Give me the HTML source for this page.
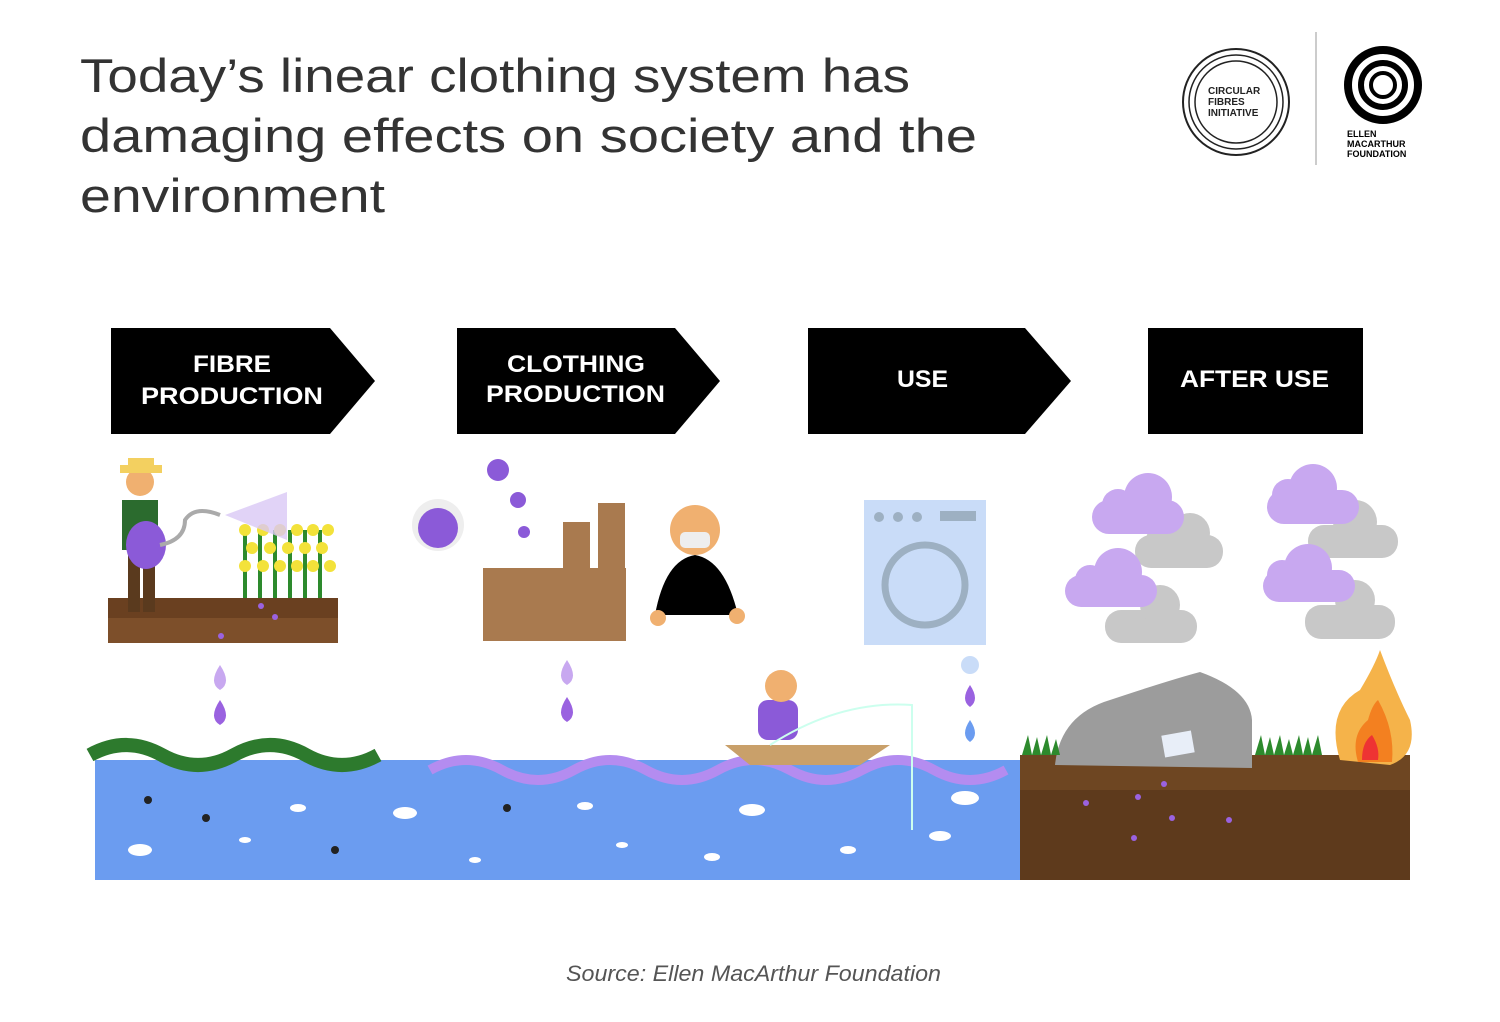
<!DOCTYPE html>
<html><head><meta charset="utf-8"><style>
html,body{margin:0;padding:0;background:#fff;}
svg{display:block}
</style></head><body>
<svg width="1500" height="1022" viewBox="0 0 1500 1022" xmlns="http://www.w3.org/2000/svg" font-family="Liberation Sans, sans-serif">
<rect width="1500" height="1022" fill="#fff"/>
<g fill="#333" font-size="47">
<text x="80" y="92" textLength="830" lengthAdjust="spacingAndGlyphs">Today’s linear clothing system has</text>
<text x="80" y="152" textLength="897" lengthAdjust="spacingAndGlyphs">damaging effects on society and the</text>
<text x="80" y="212" textLength="305" lengthAdjust="spacingAndGlyphs">environment</text>
</g>
<g fill="none" stroke="#222">
<circle cx="1236" cy="102" r="53" stroke-width="2"/>
<circle cx="1236" cy="102" r="47" stroke-width="1.5"/>
<circle cx="1236" cy="102" r="41" stroke-width="1.5"/>
</g>
<g font-size="10" font-weight="bold" fill="#222"><text x="1208" y="94">CIRCULAR</text><text x="1208" y="105">FIBRES</text><text x="1208" y="116">INITIATIVE</text></g>
<line x1="1316" y1="32" x2="1316" y2="165" stroke="#ccc" stroke-width="2"/>
<circle cx="1383" cy="85" r="35" fill="none" stroke="#000" stroke-width="8"/>
<circle cx="1383" cy="85" r="22" fill="none" stroke="#000" stroke-width="6"/>
<circle cx="1383" cy="85" r="12" fill="none" stroke="#000" stroke-width="4"/>
<g font-size="9" font-weight="bold" fill="#000"><text x="1347" y="137">ELLEN</text><text x="1347" y="147">MACARTHUR</text><text x="1347" y="157">FOUNDATION</text></g>
<g fill="#000">
<polygon points="111,328 330,328 375,381 330,434 111,434"/>
<polygon points="457,328 675,328 720,381 675,434 457,434"/>
<polygon points="808,328 1025,328 1071,381 1025,434 808,434"/>
<rect x="1148" y="328" width="215" height="106"/>
</g>
<g fill="#fff" font-size="24" font-weight="bold">
<text x="193" y="372" textLength="78" lengthAdjust="spacingAndGlyphs">FIBRE</text>
<text x="141" y="404" textLength="182" lengthAdjust="spacingAndGlyphs">PRODUCTION</text>
<text x="507" y="372" textLength="138" lengthAdjust="spacingAndGlyphs">CLOTHING</text>
<text x="486" y="402" textLength="179" lengthAdjust="spacingAndGlyphs">PRODUCTION</text>
<text x="897" y="387" textLength="51" lengthAdjust="spacingAndGlyphs">USE</text>
<text x="1180" y="387" textLength="149" lengthAdjust="spacingAndGlyphs">AFTER USE</text>
</g>
<rect x="108" y="598" width="230" height="45" fill="#7d4f2a"/>
<rect x="108" y="598" width="230" height="20" fill="#6a4020"/>
<g fill="#2d8a2d"><rect x="243" y="530" width="4" height="68"/><rect x="258" y="530" width="4" height="68"/><rect x="273" y="530" width="4" height="68"/><rect x="288" y="530" width="4" height="68"/><rect x="303" y="530" width="4" height="68"/><rect x="318" y="530" width="4" height="68"/></g>
<g fill="#f3e23a">
<circle cx="245" cy="530" r="6"/><circle cx="263" cy="530" r="6"/><circle cx="280" cy="530" r="6"/><circle cx="297" cy="530" r="6"/><circle cx="313" cy="530" r="6"/><circle cx="328" cy="530" r="6"/>
<circle cx="252" cy="548" r="6"/><circle cx="270" cy="548" r="6"/><circle cx="288" cy="548" r="6"/><circle cx="305" cy="548" r="6"/><circle cx="322" cy="548" r="6"/>
<circle cx="245" cy="566" r="6"/><circle cx="263" cy="566" r="6"/><circle cx="280" cy="566" r="6"/><circle cx="297" cy="566" r="6"/><circle cx="313" cy="566" r="6"/><circle cx="330" cy="566" r="6"/>
</g>
<polygon points="225,515 287,492 287,540" fill="#d9c8f5" opacity="0.8"/>
<rect x="122" y="500" width="36" height="50" fill="#2b6b2e"/>
<rect x="128" y="545" width="12" height="67" fill="#5a3a1e"/><rect x="143" y="545" width="12" height="67" fill="#5a3a1e"/>
<circle cx="140" cy="482" r="14" fill="#f0b070"/>
<rect x="120" y="465" width="42" height="8" fill="#f3d060"/><rect x="128" y="458" width="26" height="10" fill="#f3d060"/>
<ellipse cx="146" cy="545" rx="20" ry="24" fill="#8b5ad8"/>
<path d="M160 545 Q185 540 185 520 Q195 505 220 515" fill="none" stroke="#aaa" stroke-width="4"/>
<circle cx="438" cy="525" r="26" fill="#eee"/><circle cx="438" cy="528" r="20" fill="#8b5ad8"/>
<circle cx="498" cy="470" r="11" fill="#8b5ad8"/><circle cx="518" cy="500" r="8" fill="#8b5ad8"/><circle cx="524" cy="532" r="6" fill="#8b5ad8"/>
<g fill="#a97a4f"><rect x="483" y="568" width="143" height="73"/><rect x="563" y="522" width="27" height="50"/><rect x="598" y="503" width="27" height="70"/></g>
<path d="M655 615 Q665 560 695 555 Q725 560 738 615 Z" fill="#000"/>
<circle cx="658" cy="618" r="8" fill="#f0b070"/><circle cx="737" cy="616" r="8" fill="#f0b070"/>
<circle cx="695" cy="530" r="25" fill="#f0b070"/><rect x="680" y="532" width="30" height="16" rx="5" fill="#eee"/>
<rect x="864" y="500" width="122" height="145" fill="#c9dcf8"/>
<circle cx="925" cy="585" r="40" fill="none" stroke="#9db0c2" stroke-width="7"/>
<g fill="#9db0c2"><circle cx="879" cy="517" r="5"/><circle cx="898" cy="517" r="5"/><circle cx="917" cy="517" r="5"/><rect x="940" y="511" width="36" height="10"/></g>
<g fill="#c8c8c8">
<rect x="1135" y="535" width="88" height="33" rx="16"/><circle cx="1190" cy="533" r="20"/><circle cx="1160" cy="540" r="14"/>
<rect x="1105" y="610" width="92" height="33" rx="16"/><circle cx="1160" cy="605" r="20"/>
<rect x="1308" y="525" width="90" height="33" rx="16"/><circle cx="1355" cy="522" r="22"/>
<rect x="1305" y="605" width="90" height="34" rx="16"/><circle cx="1355" cy="600" r="20"/>
</g>
<g fill="#c8a8f0">
<rect x="1092" y="500" width="92" height="34" rx="17"/><circle cx="1148" cy="497" r="24"/><circle cx="1118" cy="505" r="16"/>
<rect x="1065" y="575" width="92" height="32" rx="16"/><circle cx="1118" cy="572" r="24"/><circle cx="1090" cy="580" r="15"/>
<rect x="1267" y="490" width="92" height="34" rx="17"/><circle cx="1313" cy="488" r="24"/><circle cx="1288" cy="495" r="16"/>
<rect x="1263" y="570" width="92" height="32" rx="16"/><circle cx="1308" cy="568" r="24"/><circle cx="1282" cy="575" r="15"/>
</g>
<g fill="#c8a8f0"><path d="M220 665 q-12 18 0 25 q12 -7 0 -25z"/><path d="M567 660 q-12 18 0 25 q12 -7 0 -25z"/></g>
<g fill="#9a62e0"><path d="M220 700 q-12 18 0 25 q12 -7 0 -25z"/><path d="M567 697 q-12 18 0 25 q12 -7 0 -25z"/><path d="M970 685 q-10 15 0 22 q10 -7 0 -22z"/></g>
<path d="M970 720 q-10 15 0 22 q10 -7 0 -22z" fill="#6b9cf0"/>
<circle cx="970" cy="665" r="9" fill="#c9dcf8"/>
<rect x="95" y="760" width="925" height="120" fill="#6b9cf0"/>
<rect x="1020" y="755" width="390" height="125" fill="#5e3a1c"/>
<rect x="1020" y="755" width="390" height="35" fill="#6e4622"/>
<path d="M90 755 q36 -20 72 0 t72 0 t72 0 t72 0" fill="none" stroke="#2d7a2d" stroke-width="14"/>
<path d="M430 770 q36 -20 72 0 t72 0 t72 0 t72 0 t72 0 t72 0 t72 0 t72 0" fill="none" stroke="#b48cf0" stroke-width="10"/>
<polygon points="725,745 890,745 860,765 750,765" fill="#c9a06a"/>
<rect x="758" y="700" width="40" height="40" rx="10" fill="#8b5ad8"/>
<circle cx="781" cy="686" r="16" fill="#f0b070"/>
<path d="M770 745 Q840 700 912 705 L912 830" fill="none" stroke="#cfe" stroke-width="2"/>
<g fill="#fff">
<ellipse cx="140" cy="850" rx="12" ry="6"/><ellipse cx="298" cy="808" rx="8" ry="4"/><ellipse cx="405" cy="813" rx="12" ry="6"/>
<ellipse cx="585" cy="806" rx="8" ry="4"/><ellipse cx="752" cy="810" rx="13" ry="6"/><ellipse cx="965" cy="798" rx="14" ry="7"/>
<ellipse cx="940" cy="836" rx="11" ry="5"/><ellipse cx="848" cy="850" rx="8" ry="4"/><ellipse cx="712" cy="857" rx="8" ry="4"/>
<ellipse cx="622" cy="845" rx="6" ry="3"/><ellipse cx="475" cy="860" rx="6" ry="3"/><ellipse cx="245" cy="840" rx="6" ry="3"/>
</g>
<g fill="#222"><circle cx="148" cy="800" r="4"/><circle cx="206" cy="818" r="4"/><circle cx="335" cy="850" r="4"/><circle cx="507" cy="808" r="4"/></g>
<path d="M1055 765 Q1060 715 1110 700 Q1170 680 1200 672 Q1250 690 1252 720 L1252 768 Z" fill="#9c9c9c"/>
<path d="M1022 755 l6 -20 l4 20 l5 -18 l4 18 l6 -20 l4 20 l5 -16 l4 16 z" fill="#2d8a2d"/>
<path d="M1255 755 l6 -20 l4 20 l5 -18 l4 18 l6 -20 l4 20 l5 -16 l4 16 l6 -20 l4 20 l5 -18 l4 18 l6 -20 l4 20 z" fill="#2d8a2d"/>
<rect x="1163" y="733" width="30" height="22" fill="#e8eef8" transform="rotate(-10 1178 744)"/>
<path d="M1340 760 Q1325 710 1360 690 Q1375 665 1380 650 Q1395 690 1410 720 Q1418 755 1390 765 Z" fill="#f5b34a"/>
<path d="M1358 762 Q1350 735 1368 720 Q1372 705 1378 700 Q1395 730 1392 762 Z" fill="#f38020"/>
<path d="M1362 760 Q1362 742 1372 735 Q1380 748 1378 760 Z" fill="#e33"/>
<g fill="#9a62e0"><circle cx="1086" cy="803" r="3"/><circle cx="1138" cy="797" r="3"/><circle cx="1172" cy="818" r="3"/><circle cx="1229" cy="820" r="3"/><circle cx="1134" cy="838" r="3"/><circle cx="1164" cy="784" r="3"/><circle cx="261" cy="606" r="3"/><circle cx="221" cy="636" r="3"/><circle cx="275" cy="617" r="3"/></g>
<text x="566" y="981" font-size="22" font-style="italic" fill="#555" textLength="375" lengthAdjust="spacingAndGlyphs">Source: Ellen MacArthur Foundation</text>
</svg>
</body></html>
